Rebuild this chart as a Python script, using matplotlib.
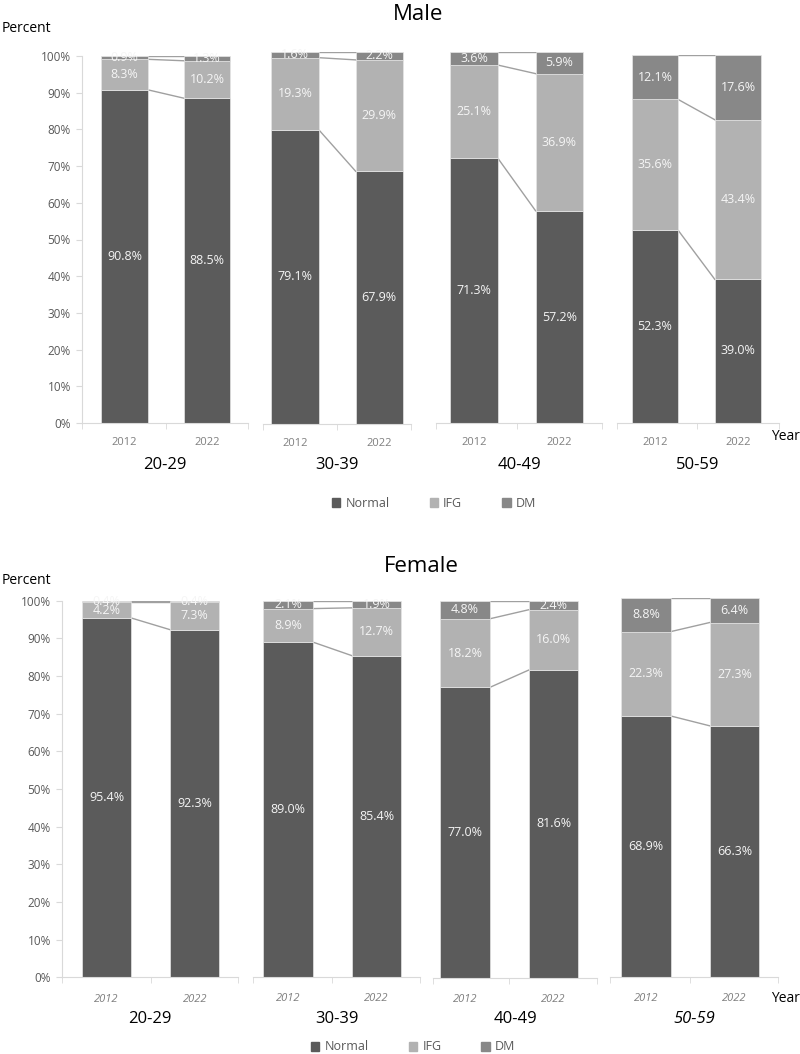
import matplotlib

matplotlib.use("Agg")
import matplotlib.pyplot as plt
from matplotlib.patches import Patch

plt.rcParams["font.family"] = ["Open Sans", "DejaVu Sans"]

W, H = 800, 1054

AGE_GROUPS = ["20-29", "30-39", "40-49", "50-59"]
YEARS = ["2012", "2022"]
CATEGORIES = ["Normal", "IFG", "DM"]

# percent per age group, [2012, 2022]
MALE_NORMAL = [[90.8, 88.5], [79.1, 67.9], [71.3, 57.2], [52.3, 39.0]]
MALE_IFG = [[8.3, 10.2], [19.3, 29.9], [25.1, 36.9], [35.6, 43.4]]
MALE_DM = [[0.9, 1.3], [1.6, 2.2], [3.6, 5.9], [12.1, 17.6]]

FEMALE_NORMAL = [[95.4, 92.3], [89.0, 85.4], [77.0, 81.6], [68.9, 66.3]]
FEMALE_IFG = [[4.2, 7.3], [8.9, 12.7], [18.2, 16.0], [22.3, 27.3]]
FEMALE_DM = [[0.4, 0.4], [2.1, 1.9], [4.8, 2.4], [8.8, 6.4]]

Y_TICKS = list(range(0, 101, 10))

COLORS = {"Normal": "#5b5b5b", "IFG": "#b2b2b2", "DM": "#888888"}
AXIS_COLOR = "#d9d9d9"
TEXT_GRAY = "#595959"
BAR_W = 0.56

# pixel geometry of each small chart: axis x0, x1, y of 100%, y of 0%, bar centres
MALE_BOXES = [
    (82, 248, 56, 423, 124.5, 207),
    (263, 411, 51.7, 424.3, 295, 379.3),
    (436, 602, 51.7, 423.3, 474, 559.5),
    (617, 779, 55, 422.7, 655, 738),
]
FEMALE_BOXES = [
    (62, 238, 600.7, 977.3, 106.7, 194.8),
    (253, 420, 600.7, 976.7, 288, 376.5),
    (433, 597, 600.7, 977.7, 465, 553.5),
    (610, 778, 598.3, 976.7, 646, 734.5),
]


def px_axes(fig, x0, x1, ytop, ybot):
    return fig.add_axes([x0 / W, 1 - ybot / H, (x1 - x0) / W, (ybot - ytop) / H])


def draw_group(fig, box, normal, ifg, dm, first, italic):
    x0, x1, ytop, ybot, c0, c1 = box
    unit = c1 - c0
    ax = px_axes(fig, x0, x1, ytop, ybot)
    lo, hi = (x0 - c0) / unit, (x1 - c0) / unit
    ax.set_xlim(lo, hi)
    ax.set_ylim(0, 100)

    xs = [0, 1]
    bottoms = [0, 0]
    tops = []
    for name, vals in zip(CATEGORIES, [normal, ifg, dm]):
        ax.bar(xs, vals, BAR_W, bottom=bottoms, color=COLORS[name],
               edgecolor="#e6e6e6", linewidth=0.5, zorder=2)
        for x, b, v in zip(xs, bottoms, vals):
            ax.text(x, b + v / 2, f"{v:.1f}%", ha="center", va="center",
                    color="#f5f5f5", fontsize=9, zorder=3)
        bottoms = [b + v for b, v in zip(bottoms, vals)]
        tops.append(list(bottoms))

    for level in tops:
        ax.plot([BAR_W / 2, 1 - BAR_W / 2], level, color="#a0a0a0",
                linewidth=1, zorder=1)

    for side in ["top", "right"]:
        ax.spines[side].set_visible(False)
    ax.spines["bottom"].set_color(AXIS_COLOR)
    if first:
        ax.spines["left"].set_color(AXIS_COLOR)
        ax.set_yticks(Y_TICKS, labels=[f"{t}%" for t in Y_TICKS])
        ax.tick_params(axis="y", length=4, color=AXIS_COLOR, labelcolor=TEXT_GRAY,
                       labelsize=8.5, pad=4)
    else:
        ax.spines["left"].set_visible(False)
        ax.set_yticks([])

    ax.set_xticks(xs, labels=YEARS)
    ax.set_xticks([lo, 0.5, hi], minor=True)
    ax.tick_params(axis="x", which="major", length=0, pad=10 if not italic else 12,
                   labelsize=8, labelcolor="#7f7f7f")
    ax.tick_params(axis="x", which="minor", length=4, color=AXIS_COLOR)
    if italic:
        for lab in ax.get_xticklabels():
            lab.set_fontstyle("italic")
    return ax


def draw_panel(fig, title, title_xy, boxes, normal, ifg, dm, italic,
               percent_y, label_y, year_y, legend_xy):
    fig.text(title_xy[0] / W, 1 - title_xy[1] / H, title, ha="center",
             va="center", fontsize=16)
    fig.text(2 / W, 1 - percent_y / H, "Percent", ha="left", va="center", fontsize=10)
    for i, box in enumerate(boxes):
        draw_group(fig, box, normal[i], ifg[i], dm[i], i == 0, italic)
        cx = (box[0] + box[1]) / 2
        style = "italic" if (italic and i == 3) else "normal"
        fig.text(cx / W, 1 - label_y / H, AGE_GROUPS[i], ha="center",
                 va="center", fontsize=12, fontstyle=style)
    fig.text(771 / W, 1 - year_y / H, "Year", ha="left", va="center", fontsize=10)

    handles = [Patch(color=COLORS[c]) for c in CATEGORIES]
    fig.legend(handles, CATEGORIES, loc="center",
               bbox_to_anchor=(legend_xy[0] / W, 1 - legend_xy[1] / H),
               ncol=3, frameon=False, fontsize=9, labelcolor=TEXT_GRAY,
               handlelength=0.7, handleheight=0.7, handletextpad=0.4,
               columnspacing=3.2)


def main():
    fig = plt.figure(figsize=(W / 100, H / 100), dpi=100)

    draw_panel(fig, "Male", (418, 15), MALE_BOXES, MALE_NORMAL, MALE_IFG, MALE_DM,
               italic=False, percent_y=29, label_y=465, year_y=437,
               legend_xy=(434, 503))
    draw_panel(fig, "Female", (421, 566), FEMALE_BOXES, FEMALE_NORMAL, FEMALE_IFG,
               FEMALE_DM, italic=True, percent_y=580, label_y=1019, year_y=998,
               legend_xy=(413, 1047))

    fig.savefig("out.png", dpi=100)
    plt.close(fig)


if __name__ == "__main__":
    main()
